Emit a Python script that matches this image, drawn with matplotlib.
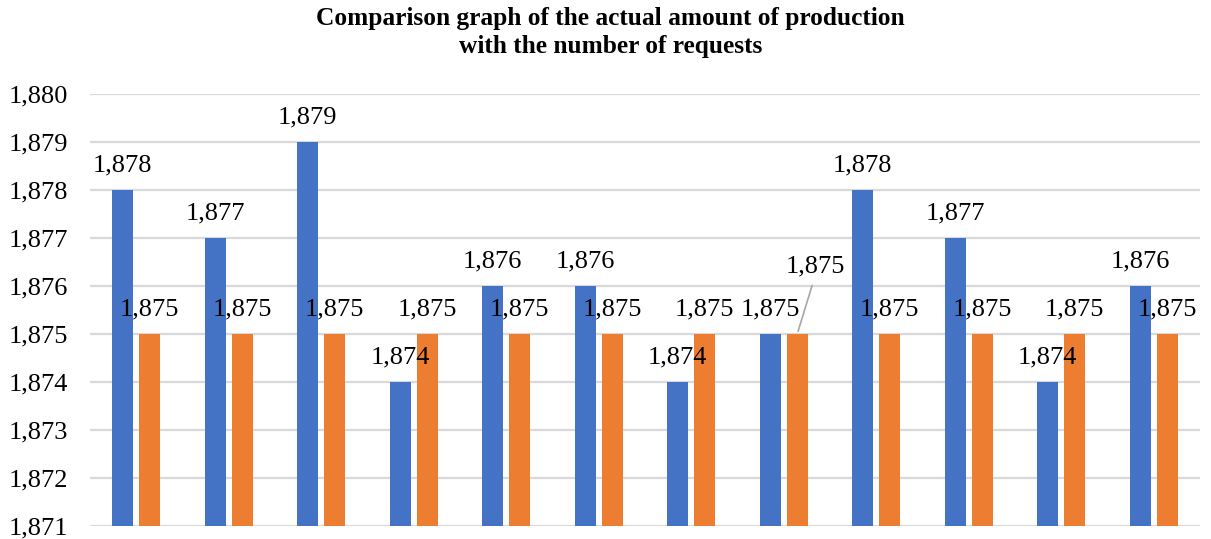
import matplotlib
matplotlib.use("Agg")
import matplotlib.pyplot as plt
import numpy as np
from matplotlib.ticker import FuncFormatter

categories = [str(i) for i in range(1, 13)]
actual = [1878, 1877, 1879, 1874, 1876, 1876, 1874, 1875, 1878, 1877, 1874, 1876]
requests = [1875, 1875, 1875, 1875, 1875, 1875, 1875, 1875, 1875, 1875, 1875, 1875]
y_ticks = [1871, 1872, 1873, 1874, 1875, 1876, 1877, 1878, 1879, 1880]

title = "Comparison graph of the actual amount of production\nwith the number of requests"

blue = "#4472C4"
orange = "#ED7D31"
grid_col = "#D9D9D9"
serif = ["Liberation Serif", "DejaVu Serif"]
fs = 19

fig = plt.figure(figsize=(12.11, 5.39), dpi=100)
ax = fig.add_axes([90 / 1211, 13 / 539, 1110 / 1211, 432 / 539])

x = np.arange(len(categories))
bw = 0.227
off = 0.146
base = y_ticks[0]

ax.bar(x - off, np.array(actual) - base, bw, bottom=base, color=blue, zorder=3)
ax.bar(x + off, np.array(requests) - base, bw, bottom=base, color=orange, zorder=3)

ax.set_xlim(-0.5, len(categories) - 0.5)
ax.set_ylim(y_ticks[0], y_ticks[-1])
ax.set_yticks(y_ticks)
ax.yaxis.set_major_formatter(FuncFormatter(lambda v, p: f"{int(v):,}"))
ax.set_xticks([])
ax.tick_params(axis="y", length=0, pad=16, labelsize=fs)
for lab in ax.get_yticklabels():
    lab.set_fontfamily(serif)
ax.grid(axis="y", color=grid_col, lw=1.6, zorder=0)
for s in ax.spines.values():
    s.set_visible(False)

def label(xv, yv, dy=18, dx=0):
    ax.annotate(f"{yv:,}", (xv, yv), xytext=(dx, dy), textcoords="offset points",
                ha="center", va="center", fontsize=fs, family=serif, zorder=5)

for i, v in enumerate(actual):
    label(x[i] - off, v)
for i, v in enumerate(requests):
    if i == 7:
        label(x[i] + off, v, dy=48.5, dx=13)
        ax.annotate("", (x[i] + off, v), xytext=(x[i] + off + 0.17, v + 1.07),
                    arrowprops=dict(arrowstyle="-", color="#A6A6A6", lw=1.2), zorder=4)
    else:
        label(x[i] + off, v)

fig.text(0.5 + 5 / 1211, 1 - 32.5 / 539, title, ha="center", va="center",
         fontsize=18.3, fontweight="bold", family=serif, linespacing=1.25)

fig.savefig("out.png", dpi=100)
